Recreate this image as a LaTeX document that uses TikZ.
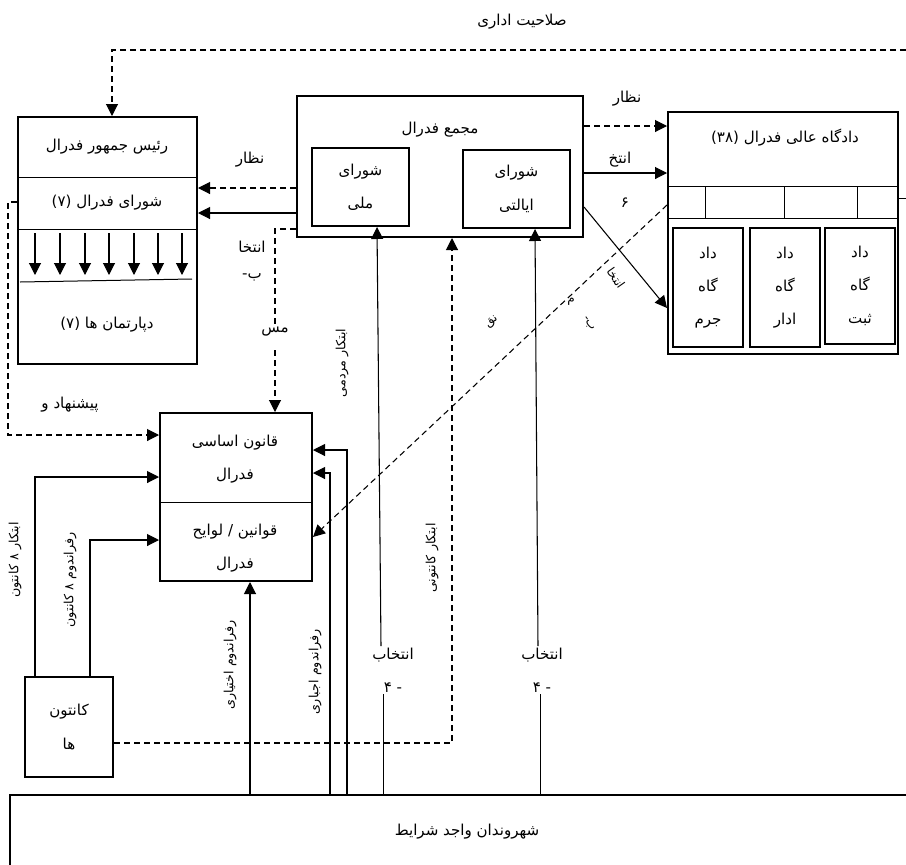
\documentclass[tikz,border=0pt]{standalone}
\usepackage{fontspec}
\newfontfamily\fafont[Script=Arabic]{DejaVu Sans}
\TeXXeTstate=1
\usetikzlibrary{arrows.meta,fit}
\newcommand{\fatext}[1]{\beginR #1\endR}

\begin{document}
\begin{tikzpicture}[
  x=0.75pt, y=-0.75pt,
  box/.style={draw, line width=1.5pt, inner sep=0pt},
  divider/.style={line width=0.75pt},
  txt/.style={font=\fafont\fontsize{11.3}{14}\selectfont, inner sep=1pt, align=center},
  stack/.style={txt, font=\fafont\fontsize{11.3}{25}\selectfont},
  sidetxt/.style={txt, rotate=90, font=\fafont\fontsize{9.5}{11}\selectfont},
  slanttxt/.style={txt, inner sep=0pt, font=\fafont\fontsize{9}{10}\selectfont},
  solidarrow/.style={-{Triangle[length=9pt,width=9pt]}, line width=0.8pt},
  dashline/.style={line width=0.8pt, dash pattern=on 4.5pt off 3pt},
  dasharrow/.style={solidarrow, dashline}
]
\clip (0,0) rectangle (906,864);

% federal council
\node[box, fit={(18,117) (197,364)}] (fed) {};
\node[txt] (pres) at (107,147) {\fatext{رئیس جمهور فدرال}};
\node[txt] (council) at (107,203) {\fatext{شورای فدرال (۷)}};
\node[txt] (depts) at (107,325) {\fatext{دپارتمان ها (۷)}};
\draw[divider] (fed.west |- 0,177) -- (fed.east |- 0,177);
\draw[divider] (fed.west |- 0,229) -- (fed.east |- 0,229);
\draw[divider] (20,282) -- (192,279);
\foreach \x in {35,60,85,109,134,158,182}
  \draw[solidarrow] (\x,233) -- (\x,275);

% federal assembly
\node[box, fit={(297,96) (583,237)}] (assembly) {};
\node[txt] (asmtitle) at (440,130) {\fatext{مجمع فدرال}};
\node[box, fit={(312,148) (409,226)}] (natl) {};
\node[stack] (natltxt) at (natl.center) {\fatext{شورای}\\\fatext{ملی}};
\node[box, fit={(463,150) (570,228)}] (states) {};
\node[stack] (statestxt) at (states.center) {\fatext{شورای}\\\fatext{ایالتی}};

% federal court
\node[box, fit={(668,112) (898,354)}] (court) {};
\node[txt] (courttitle) at (785,138) {\fatext{دادگاه عالی فدرال (۳۸)}};
\draw[divider] (court.west |- 0,186) -- (court.east |- 0,186);
\draw[divider] (court.west |- 0,218) -- (court.east |- 0,218);
\foreach \x in {705,784,857}
  \draw[divider] (\x,186) -- (\x,218);
\node[box, fit={(673,228) (743,347)}] (crim) {};
\node[box, fit={(750,228) (820,347)}] (adm) {};
\node[box, fit={(825,228) (895,344)}] (reg) {};
\node[stack] (crimtxt) at (crim.center) {\fatext{داد}\\\fatext{گاه}\\\fatext{جرم}};
\node[stack] (admtxt) at (adm.center) {\fatext{داد}\\\fatext{گاه}\\\fatext{ادار}};
\node[stack] (regtxt) at (reg.center) {\fatext{داد}\\\fatext{گاه}\\\fatext{ثبت}};

% constitution and laws
\node[box, fit={(160,413) (312,581)}] (const) {};
\draw[divider] (const.west |- 0,502) -- (const.east |- 0,502);
\node[stack] (consttxt) at (235,459) {\fatext{قانون اساسی}\\\fatext{فدرال}};
\node[stack] (lawstxt) at (235,548) {\fatext{قوانین / لوایح}\\\fatext{فدرال}};

% cantons and citizens
\node[box, fit={(25,677) (113,777)}] (canton) {};
\node[stack] (cantontxt) at (canton.center) {\fatext{کانتون}\\\fatext{ها}};
\node[box, fit={(10,795) (930,900)}] (citizens) {};
\node[txt] (citizenstxt) at (467,832) {\fatext{شهروندان واجد شرایط}};

% labels
\node[txt] (admintitle) at (522,22) {\fatext{صلاحیت اداری}};
\node[txt] (supL) at (250,160) {\fatext{نظار}};
\node[txt] (supR) at (627,99) {\fatext{نظار}};
\node[txt] (elecR) at (620,160) {\fatext{انتخ}};
\node[txt] (sixR) at (625,203) {\fatext{۶}};
\node[txt] (elecL) at (252,247) {\fatext{انتخا}};
\node[txt] (beL) at (252,277) {\fatext{ب-}};
\node[txt] (msL) at (275,332) {\fatext{مس}};
\node[txt] (proposal) at (70,405) {\fatext{پیشنهاد و}};
\node[slanttxt, rotate=-55] (elecD) at (616,278) {\fatext{انتخا}};
\node[slanttxt] (mD) at (571,302) {\fatext{م}};
\node[slanttxt, rotate=-55] (beD) at (588,324) {\fatext{ب-}};
\node[slanttxt, rotate=40] (veto) at (492,322) {\fatext{نق}};
\node[stack] (elec1) at (393,670) {\fatext{انتخاب}\\\fatext{- ۴}};
\node[stack] (elec2) at (542,670) {\fatext{انتخاب}\\\fatext{- ۴}};
\node[sidetxt] (cinit) at (15,560) {\fatext{ابتکار ۸ کانتون}};
\node[sidetxt] (cref) at (70,580) {\fatext{رفراندوم ۸ کانتون}};
\node[sidetxt] (optref) at (230,665) {\fatext{رفراندوم اختیاری}};
\node[sidetxt] (mandref) at (315,672) {\fatext{رفراندوم اجباری}};
\node[sidetxt] (popinit) at (342,363) {\fatext{ابتکار مردمی}};
\node[sidetxt] (cantinit) at (432,558) {\fatext{ابتکار کانتونی}};

% connectors
\coordinate (adminend) at (906,50);
\coordinate (courtend) at (906,198);
\draw[dasharrow] (adminend) -| (fed.north -| 112,0);
\draw[divider] (court.east |- 0,198) -- (courtend);
\draw[dasharrow] (assembly.west |- 0,188) -- (fed.east |- 0,188);
\draw[solidarrow] (assembly.west |- 0,213) -- (fed.east |- 0,213);
\draw[dashline] (assembly.west |- 0,229) -| (msL.north -| 275,302);
\draw[dasharrow] (msL.south) ++(0,12) -- (const.north -| msL);
\draw[dasharrow] (fed.west |- 0,202) -| (8,435) -- (const.west |- 0,435);
\draw[solidarrow] (canton.north -| 35,0) |- (const.west |- 0,477);
\draw[solidarrow] (canton.north -| 90,0) |- (const.west |- 0,540);
\draw[dasharrow] (canton.east |- 0,743) -| (assembly.south -| 452,0);
\draw[dasharrow] (assembly.east |- 0,126) -- (court.west |- 0,126);
\draw[solidarrow] (assembly.east |- 0,173) -- (court.west |- 0,173);
\draw[solidarrow] (assembly.east |- 0,207) -- (court.west |- 0,308);
\draw[dasharrow] (court.west |- 0,205) -- (const.east |- 0,537);
\draw[solidarrow] (citizens.north -| 250,0) -- (const.south -| 250,0);
\draw[solidarrow] (citizens.north -| 330,0) |- (const.east |- 0,473);
\draw[solidarrow] (citizens.north -| 347,0) |- (const.east |- 0,450);
\draw[divider] (citizens.north -| 383,0) -- (elec1.south -| 383,0);
\draw[solidarrow] (elec1.north -| 381,0) -- (natl.south -| 377,0);
\draw[divider] (citizens.north -| 540,0) -- (elec2.south -| 540,0);
\draw[solidarrow] (elec2.north -| 538,0) -- (states.south -| 535,0);
\end{tikzpicture}
\end{document}
